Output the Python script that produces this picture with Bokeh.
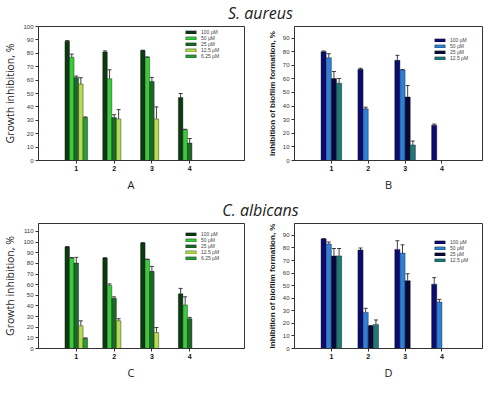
from bokeh.plotting import figure
from bokeh.models import ColumnDataSource, Whisker, TeeHead, Legend, LegendItem, Title, FixedTicker, Range1d
from bokeh.layouts import column, row
from bokeh.embed import file_html
from bokeh.resources import INLINE
from bokeh.core.properties import value

# ---------------- data ----------------
groups = [1, 2, 3, 4]
growth_labels = ["100 µM", "50 µM", "25 µM", "12.5 µM", "6.25 µM"]
biofilm_labels = ["100 µM", "50 µM", "25 µM", "12.5 µM"]

# S. aureus, growth inhibition (A)
sa_growth_100 = [89, 81, 82, 47]
sa_growth_50 = [77, 61, 77, 23]
sa_growth_25 = [62, 32, 59, 13]
sa_growth_12 = [57, 31, 31, None]
sa_growth_6 = [32, None, None, None]
sa_growth_err_100 = [0.5, 0.8, 0.3, 3]
sa_growth_err_50 = [2.4, 6.7, 0.3, 0.3]
sa_growth_err_25 = [1, 2.2, 3, 3.4]
sa_growth_err_12 = [4.8, 7, 9, None]
sa_growth_err_6 = [0.5, None, None, None]

# S. aureus, biofilm (B)
sa_bio_100 = [80, 67, 73.6, 26]
sa_bio_50 = [75.5, 38, 66.6, None]
sa_bio_25 = [60.3, None, 46.7, None]
sa_bio_12 = [56.8, None, 11.4, None]
sa_bio_err_100 = [0.5, 0.8, 3.7, 0.8]
sa_bio_err_50 = [3, 1.2, 0.3, None]
sa_bio_err_25 = [5.1, None, 8.4, None]
sa_bio_err_12 = [3.5, None, 2.9, None]

# C. albicans, growth inhibition (C)
ca_growth_100 = [95.5, 85, 99.2, 51.4]
ca_growth_50 = [85, 59.3, 83.7, 41]
ca_growth_25 = [80.3, 47.2, 72.5, 28]
ca_growth_12 = [21.3, 26, 15, None]
ca_growth_6 = [9.6, None, None, None]
ca_growth_err_100 = [0.3, 0.3, 0.3, 5.1]
ca_growth_err_50 = [0.5, 1.4, 0.3, 7.6]
ca_growth_err_25 = [5.4, 1.4, 4.7, 1.2]
ca_growth_err_12 = [4.7, 2, 4.7, None]
ca_growth_err_6 = [0.3, None, None, None]

# C. albicans, biofilm (D)
ca_bio_100 = [87.2, 78.4, 78.9, 51.2]
ca_bio_50 = [83.2, 28.7, 76, 37]
ca_bio_25 = [73.7, 18, 54, None]
ca_bio_12 = [73.7, 19.2, None, None]
ca_bio_err_100 = [0.3, 1.6, 6.9, 5.2]
ca_bio_err_50 = [1.6, 3.3, 6.5, 2.1]
ca_bio_err_25 = [5.9, 0.3, 5.5, None]
ca_bio_err_12 = [5.9, 3.5, None, None]

green_colors = ["#0b3a10", "#36cc3a", "#1d6a28", "#b2dd4c", "#2a9a38"]
blue_colors = ["#0b0b70", "#2f80d6", "#080838", "#1f7878"]

ticks_A = list(range(0, 101, 10))
ticks_B = list(range(0, 91, 10))
ticks_C = list(range(0, 111, 10))
ticks_D = list(range(0, 91, 10))


def make_panel(series, errors, labels, colors, yend, yticks, ylabel, ylabel_font,
               ylabel_size, ylabel_style, xend, width, height, bl, br, bt, bb,
               bar_w, letter, letter_align, letter_offset, legend_xy):
    p = figure(width=width, height=height, x_range=Range1d(0, xend), y_range=Range1d(0, yend),
               output_backend="svg", toolbar_location=None,
               min_border_left=bl, min_border_right=br, min_border_top=bt, min_border_bottom=bb)
    p.xgrid.visible = False
    p.ygrid.visible = False
    p.outline_line_color = "#333333"
    p.outline_line_width = 1
    p.background_fill_color = "white"
    p.border_fill_color = "white"

    p.xaxis.ticker = FixedTicker(ticks=groups)
    p.yaxis.ticker = FixedTicker(ticks=yticks)
    for ax in (p.xaxis, p.yaxis):
        ax.minor_tick_line_color = None
        ax.major_tick_in = 0
        ax.major_tick_out = 3
        ax.major_tick_line_color = "#333333"
        ax.axis_line_color = "#333333"
        ax.major_label_standoff = 2
    p.xaxis.major_label_text_font = "Liberation Sans"
    p.xaxis.major_label_text_font_style = "bold"
    p.xaxis.major_label_text_font_size = "7px"
    p.xaxis.major_label_text_color = "#111111"
    p.yaxis.major_label_text_font = "Liberation Sans"
    p.yaxis.major_label_text_font_size = "6px"
    p.yaxis.major_label_text_color = "#333333"
    p.yaxis.axis_label = ylabel
    p.yaxis.axis_label_text_font = ylabel_font
    p.yaxis.axis_label_text_font_size = ylabel_size
    p.yaxis.axis_label_text_font_style = ylabel_style
    p.yaxis.axis_label_text_color = "#1a1a1a"
    p.yaxis.axis_label_standoff = 3

    n = len(series)
    items = []
    for i, (vals, errs) in enumerate(zip(series, errors)):
        off = (i - (n - 1) / 2.0) * bar_w
        xs, tops, ups = [], [], []
        for g, v, e in zip(groups, vals, errs):
            if v is None:
                continue
            xs.append(g + off)
            tops.append(v)
            ups.append(v + (e if e is not None else 0))
        src = ColumnDataSource(dict(x=xs, top=tops, up=ups))
        r = p.vbar(x="x", top="top", width=bar_w, source=src,
                   fill_color=colors[i], line_color="#111111", line_width=0.4)
        w = Whisker(source=src, base="x", lower="top", upper="up", dimension="height",
                    lower_head=None,
                    upper_head=TeeHead(size=4, line_color="#111111", line_width=0.8),
                    line_color="#111111", line_width=0.8, level="overlay")
        p.add_layout(w)
        items.append(LegendItem(label=labels[i], renderers=[r]))

    legend = Legend(items=items, location=legend_xy, glyph_width=13, glyph_height=4,
                    label_text_font_size="5px", label_text_font="Liberation Sans",
                    label_height=5, spacing=0, padding=1, margin=0, label_standoff=4,
                    border_line_color=None, background_fill_alpha=0)
    p.add_layout(legend)

    p.add_layout(Title(text=letter, align=letter_align, offset=letter_offset, standoff=3,
                       text_font="Open Sans", text_font_size="11px", text_font_style="normal",
                       text_color="#1a1a1a"), "below")
    return p


def title_fig(text, width, height, ypos):
    t = figure(width=width, height=height, x_range=Range1d(0, width), y_range=Range1d(0, height),
               output_backend="svg", toolbar_location=None, min_border=0,
               x_axis_location=None, y_axis_location=None)
    t.xgrid.visible = False
    t.ygrid.visible = False
    t.outline_line_color = None
    t.text(x=[width / 2.0 + 18], y=[ypos], text=[text], text_align="center", text_baseline="middle",
           text_font=value("Open Sans"), text_font_style="italic", text_font_size="16px",
           text_color="#222222")
    return t


pA = make_panel([sa_growth_100, sa_growth_50, sa_growth_25, sa_growth_12, sa_growth_6],
                [sa_growth_err_100, sa_growth_err_50, sa_growth_err_25, sa_growth_err_12, sa_growth_err_6],
                growth_labels, green_colors, 100, ticks_A, "Growth inhibition, %", "Open Sans",
                "10.5px", "normal", 5.45, 246, 172, 30, 2, 2, 36, 0.12,
                "A", "left", 89, (146, 101))
pB = make_panel([sa_bio_100, sa_bio_50, sa_bio_25, sa_bio_12],
                [sa_bio_err_100, sa_bio_err_50, sa_bio_err_25, sa_bio_err_12],
                biofilm_labels, blue_colors, 98.5, ticks_B, "Inhibition of biofilm formation, %",
                "Liberation Sans", "8px", "bold", 5.1, 238, 172, 48, 2, 2, 36, 0.14,
                "B", "center", 0, (139, 99))
pC = make_panel([ca_growth_100, ca_growth_50, ca_growth_25, ca_growth_12, ca_growth_6],
                [ca_growth_err_100, ca_growth_err_50, ca_growth_err_25, ca_growth_err_12, ca_growth_err_6],
                growth_labels, green_colors, 117.5, ticks_C, "Growth inhibition, %", "Open Sans",
                "10.5px", "normal", 5.45, 246, 161, 30, 2, 3, 30, 0.12,
                "C", "left", 89, (146, 87))
pD = make_panel([ca_bio_100, ca_bio_50, ca_bio_25, ca_bio_12],
                [ca_bio_err_100, ca_bio_err_50, ca_bio_err_25, ca_bio_err_12],
                biofilm_labels, blue_colors, 99.5, ticks_D, "Inhibition of biofilm formation, %",
                "Liberation Sans", "8px", "bold", 5.1, 238, 161, 48, 2, 3, 30, 0.14,
                "D", "center", 0, (139, 85))

t1 = title_fig("S. aureus", 484, 24, 12)
t2 = title_fig("C. albicans", 484, 24, 11)

layout = column(t1, row(pA, pB), t2, row(pC, pD))

open("out.html", "w").write(file_html(layout, INLINE))
